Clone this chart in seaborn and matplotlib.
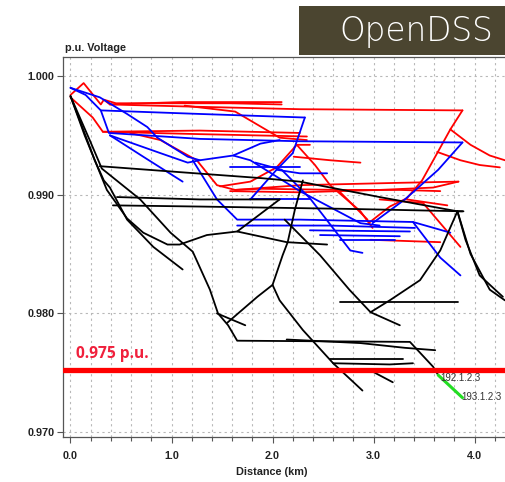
import matplotlib
matplotlib.use("Agg")
import matplotlib.pyplot as plt
from matplotlib.patches import Rectangle
from matplotlib.ticker import MultipleLocator, FormatStrFormatter
import numpy as np
import pandas as pd
import seaborn as sns

# Feeder voltage profile: each branch is (distance km, voltage p.u.)
PHASE_A = [
    ([0.00, 0.13, 0.30, 0.33, 0.39, 1.08, 2.09], [0.9984, 0.9994, 0.9976, 0.9980, 0.9976, 0.9978, 0.9978]),
    ([0.33, 0.45, 1.58, 2.09], [0.9980, 0.9977, 0.9977, 0.9976]),
    ([0.39, 1.28, 2.27, 3.88], [0.9976, 0.9974, 0.9972, 0.9971]),
    ([3.88, 3.76, 3.63, 3.48, 3.33, 3.16, 2.95], [0.9971, 0.9955, 0.9935, 0.9912, 0.9897, 0.9890, 0.9876]),
    ([3.76, 3.96, 4.15, 4.30], [0.9955, 0.9942, 0.9933, 0.9929]),
    ([3.63, 3.86, 4.05, 4.25], [0.9936, 0.9929, 0.9925, 0.9923]),
    ([0.00, 0.22, 0.32, 1.28, 2.34], [0.9982, 0.9965, 0.9953, 0.9951, 0.9949]),
    ([0.32, 1.28, 2.27], [0.9953, 0.9954, 0.9952]),
    ([0.59, 0.89, 1.25, 1.45, 1.63, 1.88], [0.9952, 0.9946, 0.9929, 0.9908, 0.9904, 0.9905]),
    ([1.13, 1.63, 2.07, 2.34], [0.9975, 0.9970, 0.9948, 0.9946]),
    ([1.48, 1.78, 2.04, 2.24, 2.37], [0.9907, 0.9911, 0.9923, 0.9942, 0.9942]),
    ([2.24, 2.42, 2.57, 2.87, 2.99], [0.9942, 0.9925, 0.9908, 0.9886, 0.9872]),
    ([2.21, 2.57, 2.87], [0.9932, 0.9929, 0.9927]),
    ([1.63, 2.27, 3.26, 3.84], [0.9904, 0.9908, 0.9910, 0.9911]),
    ([1.58, 2.27, 3.06, 3.59, 3.84], [0.9903, 0.9902, 0.9904, 0.9906, 0.9911]),
    ([1.88, 2.67, 3.26, 3.66], [0.9905, 0.9904, 0.9904, 0.9903]),
    ([2.67, 2.94], [0.9902, 0.9879]),
    ([3.06, 3.49, 3.66, 3.86], [0.9896, 0.9893, 0.9876, 0.9856]),
    ([2.97, 3.66], [0.9862, 0.9860]),
    ([3.33, 3.73], [0.9896, 0.9891]),
]

PHASE_B = [
    ([0.00, 0.15, 0.30, 1.28, 2.32], [0.9990, 0.9984, 0.9971, 0.9968, 0.9965]),
    ([2.32, 2.20, 2.04, 1.78], [0.9965, 0.9935, 0.9921, 0.9896]),
    ([0.00, 0.29, 0.56, 0.76, 0.86, 1.16, 1.28, 1.61, 1.88, 2.07],
     [0.9990, 0.9982, 0.9968, 0.9957, 0.9948, 0.9932, 0.9929, 0.9933, 0.9943, 0.9946]),
    ([0.30, 0.38, 1.28, 2.27, 3.88], [0.9971, 0.9952, 0.9947, 0.9945, 0.9944]),
    ([3.88, 3.64, 3.31, 2.99], [0.9944, 0.9921, 0.9896, 0.9876]),
    ([0.39, 0.72, 1.11], [0.9950, 0.9932, 0.9911]),
    ([0.39, 0.89, 1.16, 1.28], [0.9950, 0.9935, 0.9927, 0.9929]),
    ([1.21, 1.45, 1.65, 2.27, 3.39, 3.76], [0.9929, 0.9896, 0.9879, 0.9879, 0.9877, 0.9868]),
    ([1.65, 2.57, 3.41], [0.9874, 0.9874, 0.9872]),
    ([2.37, 3.36], [0.9870, 0.9869]),
    ([2.47, 3.26], [0.9866, 0.9865]),
    ([2.67, 3.21], [0.9862, 0.9862]),
    ([1.61, 1.78, 2.27, 2.87, 3.06], [0.9933, 0.9929, 0.9903, 0.9876, 0.9874]),
    ([1.83, 2.09, 2.37, 2.77, 2.89], [0.9927, 0.9921, 0.9897, 0.9853, 0.9851]),
    ([3.39, 3.66, 3.86], [0.9877, 0.9847, 0.9832]),
    ([1.58, 2.27], [0.9923, 0.9923]),
    ([2.04, 2.27, 2.54], [0.9921, 0.9918, 0.9918]),
    ([1.78, 2.37], [0.9896, 0.9896]),
]

PHASE_C = [
    ([0.00, 0.09, 0.24, 0.33, 0.39, 0.56, 0.82, 1.11],
     [0.9983, 0.9963, 0.9929, 0.9912, 0.9906, 0.9879, 0.9856, 0.9837]),
    ([0.00, 0.14, 0.36, 0.56, 0.72, 0.96, 1.08, 1.35, 1.65, 2.07],
     [0.9983, 0.9950, 0.9904, 0.9880, 0.9868, 0.9858, 0.9858, 0.9866, 0.9869, 0.9896]),
    ([1.65, 2.14, 2.54], [0.9869, 0.9860, 0.9858]),
    ([0.00, 0.19, 0.31, 0.69, 0.99, 1.21, 1.38, 1.46, 1.56, 1.65, 3.36, 3.59, 3.64],
     [0.9983, 0.9946, 0.9922, 0.9896, 0.9868, 0.9852, 0.9820, 0.9800, 0.9790, 0.9777, 0.9776, 0.9755, 0.9748]),
    ([0.29, 1.08, 1.88, 2.27, 3.06, 3.83, 3.89], [0.9924, 0.9919, 0.9914, 0.9911, 0.9898, 0.9886, 0.9886]),
    ([0.46, 1.28, 2.07], [0.9898, 0.9896, 0.9896]),
    ([0.42, 1.28, 2.77, 3.88], [0.9891, 0.9890, 0.9888, 0.9886]),
    ([2.97, 3.16, 3.46, 3.66, 3.83], [0.9801, 0.9811, 0.9828, 0.9853, 0.9886]),
    ([3.83, 3.91, 4.05, 4.28], [0.9886, 0.9862, 0.9832, 0.9814]),
    ([3.83, 3.96, 4.15, 4.30], [0.9886, 0.9850, 0.9820, 0.9811]),
    ([1.55, 1.85, 2.00, 2.10, 2.15, 2.22, 2.30], [0.9792, 0.9814, 0.9824, 0.9849, 0.9860, 0.9887, 0.9912]),
    ([2.00, 2.07, 2.30, 2.60, 2.89], [0.9824, 0.9811, 0.9786, 0.9758, 0.9735]),
    ([2.12, 2.47, 2.76, 2.97, 3.26], [0.9879, 0.9849, 0.9820, 0.9801, 0.9790]),
    ([2.67, 3.84], [0.9810, 0.9810]),
    ([2.14, 2.87, 3.31, 3.61], [0.9778, 0.9775, 0.9771, 0.9769]),
    ([2.57, 3.29], [0.9762, 0.9762]),
    ([2.60, 3.16, 3.39], [0.9758, 0.9757, 0.9758]),
    ([2.87, 3.34], [0.9751, 0.9751]),
    ([2.99, 3.19], [0.9751, 0.9742]),
    ([1.45, 1.73], [0.9800, 0.9790]),
]

# Overloaded branch between buses 192 and 193
SELECTED_KM = [3.64, 3.88]
SELECTED_PU = [0.9748, 0.9729]
SELECTED_BUSES = ["192.1.2.3", "193.1.2.3"]

LIMIT_PU = 0.9752
LIMIT_LABEL = "0.975 p.u."
Y_TICKS = [0.970, 0.980, 0.990, 1.000]
X_TICKS = [0.0, 1.0, 2.0, 3.0, 4.0]

rows = []
for phase, branches in (("A", PHASE_A), ("B", PHASE_B), ("C", PHASE_C)):
    for i, (km, pu) in enumerate(branches):
        for j, (x, y) in enumerate(zip(km, pu)):
            rows.append({"phase": phase, "branch": f"{phase}{i}", "step": j, "km": x, "pu": y})
profile = pd.DataFrame(rows)

sns.set_theme(style="white")
plt.rcParams["font.family"] = ["Liberation Sans", "DejaVu Sans"]

fig = plt.figure(figsize=(5.05, 4.82), dpi=100)
ax = fig.add_axes([0.1248, 0.0934, 0.905, 0.7884])

sns.lineplot(data=profile, x="km", y="pu", hue="phase", units="branch",
             estimator=None, sort=False, legend=False, linewidth=1.3,
             palette={"A": "#ff0000", "B": "#0000ff", "C": "#000000"}, ax=ax)

sel = pd.DataFrame({"km": SELECTED_KM, "pu": SELECTED_PU})
sns.lineplot(data=sel, x="km", y="pu", sort=False, color="#22dd22", linewidth=2.2, ax=ax)

ax.axhline(LIMIT_PU, color="#ff0000", linewidth=3.8, zorder=5)
ax.text(0.05, 0.97655, LIMIT_LABEL, color="#f0203c", fontsize=11.2, fontweight="bold",
        va="center", ha="left", family=["Open Sans", "DejaVu Sans"])

# bus names next to the selected branch ends
ax.text(SELECTED_KM[0] + 0.02, SELECTED_PU[0] - 0.00024, SELECTED_BUSES[0], fontsize=7,
        color="#333333", va="center", ha="left", zorder=6)
ax.text(SELECTED_KM[1] - 0.01, SELECTED_PU[1] + 0.00006, SELECTED_BUSES[1], fontsize=7,
        color="#333333", va="center", ha="left", zorder=6)

ax.set_xlim(-0.074, 4.45)
ax.set_ylim(0.96959, 1.0016)
ax.set_xticks(X_TICKS)
ax.xaxis.set_minor_locator(MultipleLocator(0.2))
ax.set_yticks(Y_TICKS)
ax.xaxis.set_major_formatter(FormatStrFormatter("%.1f"))
ax.yaxis.set_major_formatter(FormatStrFormatter("%.3f"))
for lab in ax.get_xticklabels() + ax.get_yticklabels():
    lab.set_fontweight("bold")
    lab.set_fontsize(7.8)
    lab.set_color("#222222")

ax.tick_params(axis="x", which="major", direction="out", length=4, width=0.8,
               color="#555555", bottom=True, pad=6)
ax.tick_params(axis="x", which="minor", direction="out", length=3, width=0.8,
               color="#555555", bottom=True)
ax.tick_params(axis="y", which="major", direction="out", length=4, width=0.8,
               color="#555555", left=True, pad=2)

grid_style = dict(color="#b8b8b8", linestyle=(0, (2, 3)), linewidth=0.8)
ax.grid(True, axis="x", which="both", **grid_style)
ax.grid(True, axis="y", which="major", **grid_style)
ax.set_axisbelow(True)

for side in ("left", "bottom", "top"):
    ax.spines[side].set_color("#555555")
    ax.spines[side].set_linewidth(0.9)
ax.spines["right"].set_visible(False)
ax.set_xlabel("")
ax.set_ylabel("")

fig.text(65 / 505, 1 - 48 / 482, "p.u. Voltage", fontsize=7.8, fontweight="bold",
         color="#222222", va="center", ha="left")
fig.text(272 / 505, 1 - 472 / 482, "Distance (km)", fontsize=7.8, fontweight="bold",
         color="#222222", va="center", ha="center")

fig.patches.append(Rectangle((299 / 505, 1 - 55 / 482), 206 / 505, 49 / 482,
                             transform=fig.transFigure, facecolor="#4b4530",
                             edgecolor="none", zorder=10))
fig.text(493 / 505, 1 - 32 / 482, "OpenDSS", fontsize=23.5, color="white",
         ha="right", va="center", family=["DejaVu Sans"], fontweight="light", zorder=11)

fig.savefig("out.png", dpi=100, facecolor="white")
